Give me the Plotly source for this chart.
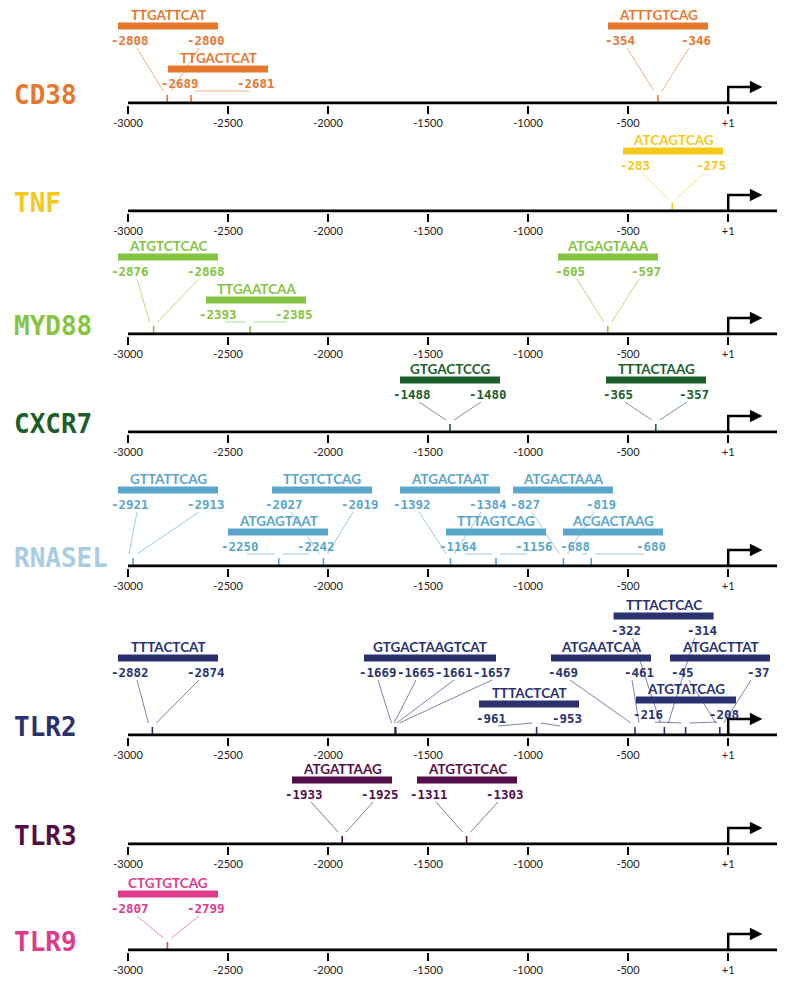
import plotly.graph_objects as go

# ---------------- data ----------------
genes = ["CD38", "TNF", "MYD88", "CXCR7", "RNASEL", "TLR2", "TLR3", "TLR9"]

cd38_motifs = ["TTGATTCAT", "TTGACTCAT", "ATTTGTCAG"]
cd38_pos = [[-2808, -2800], [-2689, -2681], [-354, -346]]
cd38_site = [-2804, -2685, -350]

tnf_motifs = ["ATCAGTCAG"]
tnf_pos = [[-283, -275]]
tnf_site = [-279]

myd88_motifs = ["ATGTCTCAC", "TTGAATCAA", "ATGAGTAAA"]
myd88_pos = [[-2876, -2868], [-2393, -2385], [-605, -597]]
myd88_site = [-2872, -2389, -601]

cxcr7_motifs = ["GTGACTCCG", "TTTACTAAG"]
cxcr7_pos = [[-1488, -1480], [-365, -357]]
cxcr7_site = [-1390, -361]          # site marks as drawn in the figure

rnasel_motifs = ["GTTATTCAG", "TTGTCTCAG", "ATGAGTAAT", "ATGACTAAT",
                 "TTTAGTCAG", "ATGACTAAA", "ACGACTAAG"]
rnasel_pos = [[-2921, -2913], [-2027, -2019], [-2250, -2242], [-1392, -1384],
              [-1164, -1156], [-827, -819], [-688, -680]]
rnasel_site = [-2975, -2023, -2246, -1388, -1160, -823, -684]

tlr2_motifs = ["TTTACTCAT", "GTGACTAAGTCAT", "TTTACTCAT", "ATGAATCAA",
               "TTTACTCAC", "ATGTATCAG", "ATGACTTAT"]
tlr2_pos = [[-2882, -2874], [-1669, -1665, -1661, -1657], [-961, -953],
            [-469, -461], [-322, -314], [-216, -208], [-45, -37]]
tlr2_site = [-2878, -1663, -957, -465, -318, -212, -41]

tlr3_motifs = ["ATGATTAAG", "ATGTGTCAC"]
tlr3_pos = [[-1933, -1925], [-1311, -1303]]
tlr3_site = [-1929, -1307]

tlr9_motifs = ["CTGTGTCAG"]
tlr9_pos = [[-2807, -2799]]
tlr9_site = [-2803]

axis_ticks = [-3000, -2500, -2000, -1500, -1000, -500, 1]
axis_ticktext = ["-3000", "-2500", "-2000", "-1500", "-1000", "-500", "+1"]

# ---------------- layout / style ----------------
OFF = 8                      # page body margin in the browser
W, H = 790 - OFF, 981 - OFF
BP_PER_PX = 5.0
X0 = -3000 - (128 - OFF) * BP_PER_PX
XR = [X0, X0 + W * BP_PER_PX]
AXIS_END = 245
colors = ["#E8772E", "#F5C918", "#84C441", "#1C5E2B", "#5AA5CA", "#2A316F", "#520E46", "#E03A8C"]
label_colors = ["#E8772E", "#F5C918", "#84C441", "#1C5E2B", "#A8CCE1", "#2A316F", "#520E46", "#E03A8C"]
baselines = [103, 211, 334, 432, 566, 735, 844, 950]   # page pixels

bar_x = [
    [-2800, -2550, -350],
    [-275],
    [-2800, -2360, -600],
    [-1390, -360],
    [-2800, -2030, -2250, -1390, -1160, -825, -575],
    [-2800, -1490, -995, -635, -322, -210, -40],
    [-1930, -1305],
    [-2800],
]
bar_h = [
    [77, 34, 77],
    [60],
    [77, 34, 77],
    [52, 52],
    [76, 76, 34, 76, 34, 76, 34],
    [77, 77, 31, 77, 119, 35, 77],
    [64, 64],
    [56],
]

motifs = [cd38_motifs, tnf_motifs, myd88_motifs, cxcr7_motifs, rnasel_motifs, tlr2_motifs, tlr3_motifs, tlr9_motifs]
positions = [cd38_pos, tnf_pos, myd88_pos, cxcr7_pos, rnasel_pos, tlr2_pos, tlr3_pos, tlr9_pos]
sites = [cd38_site, tnf_site, myd88_site, cxcr7_site, rnasel_site, tlr2_site, tlr3_site, tlr9_site]


def rgba(hexc, a):
    h = hexc.lstrip("#")
    return "rgba(%d,%d,%d,%.2f)" % (int(h[0:2], 16), int(h[2:4], 16), int(h[4:6], 16), a)


fig = go.Figure()
annotations = []
layout_axes = {}

MONO = "DejaVu Sans Mono"
SANS = "Lato"

prev_base = None
for i, g in enumerate(genes):
    xa, ya = "x%d" % (i + 1), "y%d" % (i + 1)
    base = baselines[i] - OFF
    top = 0 if prev_base is None else prev_base + 26
    prev_base = base
    pad = 1.5
    layout_axes["xaxis%d" % (i + 1)] = dict(
        domain=[0, 1], range=XR, anchor=ya, showgrid=False, zeroline=False,
        showline=False, ticks="outside", ticklen=8, tickwidth=1.6, tickcolor="#000",
        tickvals=axis_ticks, ticktext=axis_ticktext,
        tickfont=dict(family=SANS, size=11, color="#222"), fixedrange=True)
    layout_axes["yaxis%d" % (i + 1)] = dict(
        domain=[1 - (base + pad) / H, 1 - top / H], range=[-pad, base - top],
        anchor=xa, visible=False, fixedrange=True)

    col = colors[i]
    line_col = rgba(col, 0.6)

    for j, mot in enumerate(motifs[i]):
        labs = positions[i][j]
        n = len(labs)
        bx = bar_x[i][j]
        h = bar_h[i][j]
        hw = 250 if n == 2 else 330
        bl, br = bx - hw, bx + hw
        if n == 2:
            lx = [bl + 60, br - 60]
            sx = [lx[0] + 35, lx[1] - 35]
        else:
            lx = [bl + 70 + k * 190 for k in range(n)]
            sx = list(lx)
        s = sites[i][j]
        ex = [s - 20 + 40 * k / (n - 1) for k in range(n)]
        # leader lines
        for k in range(n):
            fig.add_trace(go.Scatter(x=[sx[k], ex[k]], y=[h - 22, 12], mode="lines",
                                     line=dict(color=line_col, width=1),
                                     xaxis=xa, yaxis=ya, hoverinfo="skip"))
        # site mark
        span = (labs[-1] - labs[0]) / BP_PER_PX
        fig.add_trace(go.Scatter(x=[s, s], y=[0, 8], mode="lines",
                                 line=dict(color=col, width=max(1.5, span)),
                                 xaxis=xa, yaxis=ya, hoverinfo="skip"))
        # bar
        fig.add_trace(go.Scatter(x=[bl, br], y=[h, h], mode="lines",
                                 line=dict(color=col, width=7),
                                 xaxis=xa, yaxis=ya, hoverinfo="skip"))
        annotations.append(dict(x=bx, y=h + 11, xref=xa, yref=ya, text=mot,
                                showarrow=False, yanchor="middle",
                                font=dict(family=SANS, size=13.5, color=col, weight="bold")))
        for k in range(n):
            annotations.append(dict(x=lx[k], y=h - 14.5, xref=xa, yref=ya,
                                    text=str(labs[k]), showarrow=False, yanchor="middle",
                                    font=dict(family=MONO, size=12.5, color=col, weight="bold")))

    # baseline
    fig.add_trace(go.Scatter(x=[-3000, AXIS_END], y=[0, 0], mode="lines",
                             line=dict(color="#000", width=3),
                             xaxis=xa, yaxis=ya, hoverinfo="skip"))
    # TSS bent arrow
    fig.add_trace(go.Scatter(x=[1, 1, 140], y=[0, 16, 16], mode="lines",
                             line=dict(color="#000", width=2.5),
                             xaxis=xa, yaxis=ya, hoverinfo="skip"))
    annotations.append(dict(x=172, y=16, ax=120, ay=16, xref=xa, yref=ya,
                            axref=xa, ayref=ya, text="", showarrow=True,
                            arrowhead=2, arrowsize=1, arrowwidth=2.5, arrowcolor="#000"))
    # gene label
    annotations.append(dict(x=(12 - OFF) / W, y=8, xref="paper", yref=ya, text=g,
                            xanchor="left", yanchor="middle", showarrow=False,
                            font=dict(family=MONO, size=26, color=label_colors[i], weight="bold")))

fig.update_layout(width=W, height=H, margin=dict(l=0, r=0, t=0, b=0),
                  paper_bgcolor="white", plot_bgcolor="rgba(0,0,0,0)",
                  showlegend=False, annotations=annotations, **layout_axes)

fig.write_html("out.html")
